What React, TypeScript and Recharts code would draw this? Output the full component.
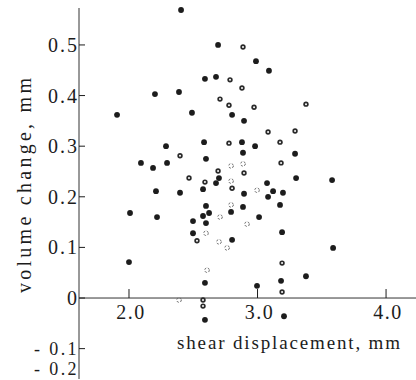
import { ScatterChart, Scatter, XAxis, YAxis, ReferenceLine, Label } from 'recharts';

// shear displacement (mm) / volume change (mm)
const solidDisp = [
    2.405, 2.202, 2.389, 2.693, 2.988, 3.089, 2.591, 2.677, 1.907, 2.49, 2.288, 2.093, 2.187, 2.296,
    2.584, 2.599, 2.21, 2.397, 2.802, 2.895, 2.879, 2.981, 2.887, 3.292, 2.7, 3.3, 3.074, 2.677,
    2.576, 3.121, 3.198, 2.895, 3.082, 2.599, 2.887, 3.175, 2.008, 2.218, 2.0, 2.498, 2.498, 2.576,
    2.623, 2.794, 3.012, 2.599, 2.802, 3.191, 3.377, 2.591, 2.996, 3.183, 2.591, 3.206, 3.58, 3.588,
];
const solidVol = [
    0.569, 0.403, 0.407, 0.5, 0.468, 0.449, 0.433, 0.437, 0.362, 0.366, 0.3, 0.267, 0.257, 0.267,
    0.308, 0.275, 0.211, 0.208, 0.362, 0.35, 0.308, 0.3, 0.287, 0.285, 0.237, 0.237, 0.227, 0.227,
    0.215, 0.211, 0.208, 0.206, 0.2, 0.182, 0.18, 0.184, 0.168, 0.16, 0.071, 0.152, 0.128, 0.162,
    0.168, 0.17, 0.16, 0.148, 0.115, 0.13, 0.043, 0.03, 0.024, 0.034, -0.043, -0.036, 0.233, 0.099,
];

const ringDisp = [
    2.887, 2.786, 2.879, 2.708, 2.778, 2.973, 3.377, 2.397, 2.467, 2.591, 3.082, 3.292, 2.778, 3.175,
    3.183, 2.693, 2.895, 2.802, 2.529, 3.191, 3.191, 2.576, 2.576,
];
const ringVol = [
    0.496, 0.431, 0.415, 0.393, 0.381, 0.377, 0.383, 0.281, 0.237, 0.229, 0.328, 0.33, 0.306, 0.308,
    0.267, 0.251, 0.247, 0.217, 0.113, 0.069, 0.012, -0.004, -0.016,
];

const faintDisp = [2.794, 2.887, 2.794, 2.996, 2.794, 2.708, 2.918, 2.599, 2.7, 2.763, 2.607, 2.389];
const faintVol = [0.261, 0.265, 0.231, 0.213, 0.184, 0.16, 0.146, 0.128, 0.111, 0.099, 0.055, -0.004];

const xTicks = [2.0, 3.0, 4.0];
const xTickLabels = ['2.0', '3.0', '4.0'];
// the printed axis is squeezed at the bottom, so "- 0.2" sits just under "- 0.1"
const yTicks = [-0.14, -0.1, 0, 0.1, 0.2, 0.3, 0.4, 0.5];
const yTickLabels = ['- 0.2', '- 0.1', '0', '0.1', '0.2', '0.3', '0.4', '0.5'];

const W = 416;
const H = 380;
const TOP = 8;
const X_AXIS_H = 1;
const AXIS_W = 79;
const X_DOMAIN = [1.611, 4.233];
const Y_DOMAIN = [-0.16, 0.573];
const FONT = "'Liberation Serif', 'DejaVu Serif', serif";
const INK = '#1c1c1c';

const toRows = (xs: number[], ys: number[]) => xs.map((x, i) => ({ x, y: ys[i] }));
const solidData = toRows(solidDisp, solidVol);
const ringData = toRows(ringDisp, ringVol);
const faintData = toRows(faintDisp, faintVol);

// pixel row of volume change = 0, where the horizontal axis sits
const plotH = H - TOP - X_AXIS_H;
const zeroY = TOP + ((Y_DOMAIN[1] - 0) / (Y_DOMAIN[1] - Y_DOMAIN[0])) * plotH;

const SolidDot = (p: any) => <circle cx={p.cx} cy={p.cy} r={2.9} fill={INK} />;
const RingDot = (p: any) => (
    <g>
        <circle cx={p.cx} cy={p.cy} r={2.7} fill="#2a2a2a" />
        <circle cx={p.cx} cy={p.cy} r={1} fill="#fff" />
    </g>
);
const FaintDot = (p: any) => (
    <circle cx={p.cx} cy={p.cy} r={2.3} fill="none" stroke="#666" strokeWidth={1} strokeDasharray="2 1.5" />
);

const XTick = ({ x, payload }: any) => {
    const i = xTicks.indexOf(payload.value);
    return (
        <g>
            <line x1={x} x2={x} y1={zeroY} y2={zeroY - 9} stroke={INK} strokeWidth={1} />
            <text x={x + 2} y={zeroY + 21} textAnchor="middle" fontFamily={FONT} fontSize={20}
                letterSpacing={1.5} fill={INK}>
                {xTickLabels[i]}
            </text>
        </g>
    );
};

const YTick = ({ x, y, payload }: any) => {
    const i = yTicks.indexOf(payload.value);
    const axisX = x + 2;
    const negative = i < 2;
    return (
        <g>
            {i > 0 && <line x1={axisX} x2={axisX + 6} y1={y} y2={y} stroke={INK} strokeWidth={1} />}
            <text x={x + 2} y={y + (negative ? 6 : 7)} textAnchor="end" fontFamily={FONT}
                fontSize={negative ? 18 : 20} letterSpacing={negative ? 2.4 : 2} fill={INK}>
                {yTickLabels[i]}
            </text>
        </g>
    );
};

export default function App() {
    return (
        <div style={{ position: 'absolute', left: 0, top: 0, width: W, height: H, background: '#fff' }}>
            <ScatterChart width={W} height={H} margin={{ top: TOP, right: 0, bottom: 0, left: 0 }}>
                <XAxis
                    type="number"
                    dataKey="x"
                    domain={X_DOMAIN}
                    ticks={xTicks}
                    interval={0}
                    height={X_AXIS_H}
                    axisLine={false}
                    tickLine={false}
                    tickSize={0}
                    tick={<XTick />}
                >
                    <Label
                        content={() => (
                            <text x={177} y={349} fontFamily={FONT} fontSize={19} fill={INK}
                                textLength={223} lengthAdjust="spacing">
                                shear displacement, mm
                            </text>
                        )}
                    />
                </XAxis>
                <YAxis
                    type="number"
                    dataKey="y"
                    domain={Y_DOMAIN}
                    ticks={yTicks}
                    interval={0}
                    width={AXIS_W}
                    axisLine={{ stroke: '#333', strokeWidth: 1 }}
                    tickLine={false}
                    tickSize={0}
                    tickMargin={2}
                    tick={<YTick />}
                >
                    <Label
                        content={() => (
                            <text x={31} y={293} transform="rotate(-90 31 293)" fontFamily={FONT} fontSize={20}
                                fill={INK} textLength={215} lengthAdjust="spacing">
                                volume change, mm
                            </text>
                        )}
                    />
                </YAxis>
                <ReferenceLine y={0} stroke="#333" strokeWidth={1} />
                <Scatter data={solidData} shape={SolidDot} isAnimationActive={false} />
                <Scatter data={ringData} shape={RingDot} isAnimationActive={false} />
                <Scatter data={faintData} shape={FaintDot} isAnimationActive={false} />
            </ScatterChart>
        </div>
    );
}
